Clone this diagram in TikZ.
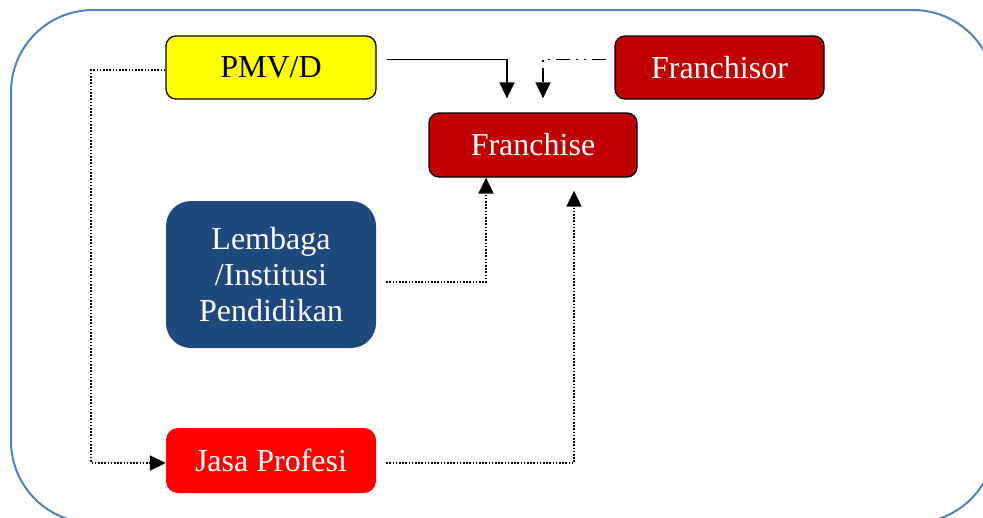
\documentclass[tikz,border=0pt]{standalone}
\usepackage{fontspec}
\setmainfont{Liberation Serif}
\usetikzlibrary{arrows.meta}
\definecolor{frameblue}{HTML}{4F81BD}
\definecolor{darkred}{HTML}{C00000}
\definecolor{navyblue}{HTML}{1F497D}
\definecolor{brightred}{HTML}{FF0000}
\definecolor{lemon}{HTML}{FFFF00}
\begin{document}
\begin{tikzpicture}[x=1pt,y=-1pt,
  boxbase/.style={rounded corners=10pt, inner sep=0pt, align=center,
    font=\fontsize{32}{36}\selectfont},
  outlined/.style={boxbase, draw=black, line width=1.3pt},
  tip/.style={-{Triangle[length=16pt,width=15pt]}},
  solidcon/.style={tip, line width=1.5pt},
  dotcon/.style={tip, line width=1.8pt, dash pattern=on 1.6pt off 1.6pt},
  dashdotdot/.style={tip, line width=1.5pt, dash pattern=on 14pt off 6pt on 2pt off 6pt on 2pt off 6pt}
]
\useasboundingbox (0,0) rectangle (983,517);
\begin{scope}
  \clip (0,0) rectangle (983,517);
  \draw[frameblue, line width=2pt, rounded corners=82pt] (11,10) rectangle (995,523);
\end{scope}

\node[outlined, fill=lemon, text=black, minimum width=210pt, minimum height=63pt] (pmv) at (271,67.5) {PMV/D};
\node[outlined, fill=darkred, text=white, minimum width=209pt, minimum height=63pt] (fsr) at (719.5,67.5) {Franchisor};
\node[outlined, fill=darkred, text=white, minimum width=208pt, minimum height=64pt] (fr) at (533,145) {Franchise};
\node[boxbase, rounded corners=25pt, fill=navyblue, text=white, minimum width=210pt, minimum height=147pt] (lem) at (271,274.5) {Lembaga\\/Institusi\\Pendidikan};
\node[boxbase, rounded corners=12pt, fill=brightred, text=white, minimum width=210pt, minimum height=65pt] (jasa) at (271,460.5) {Jasa Profesi};

\draw[solidcon] ([xshift=10pt,yshift=8pt]pmv.east) -| ([xshift=-26pt,yshift=14pt]fr.north);
\draw[dashdotdot] ([xshift=-8pt,yshift=8pt]fsr.west) -| ([xshift=10pt,yshift=14pt]fr.north);
\draw[dotcon] ([yshift=-2.5pt]pmv.west) -- ([xshift=-74pt,yshift=-2.5pt]pmv.west) |- ([yshift=-2.5pt]jasa.west);
\draw[dotcon] ([xshift=10pt,yshift=-7.5pt]lem.east) -| ([xshift=-47pt]fr.south);
\draw[dotcon] ([xshift=10pt,yshift=-2.5pt]jasa.east) -| ([xshift=41pt,yshift=-13pt]fr.south);
\end{tikzpicture}
\end{document}
